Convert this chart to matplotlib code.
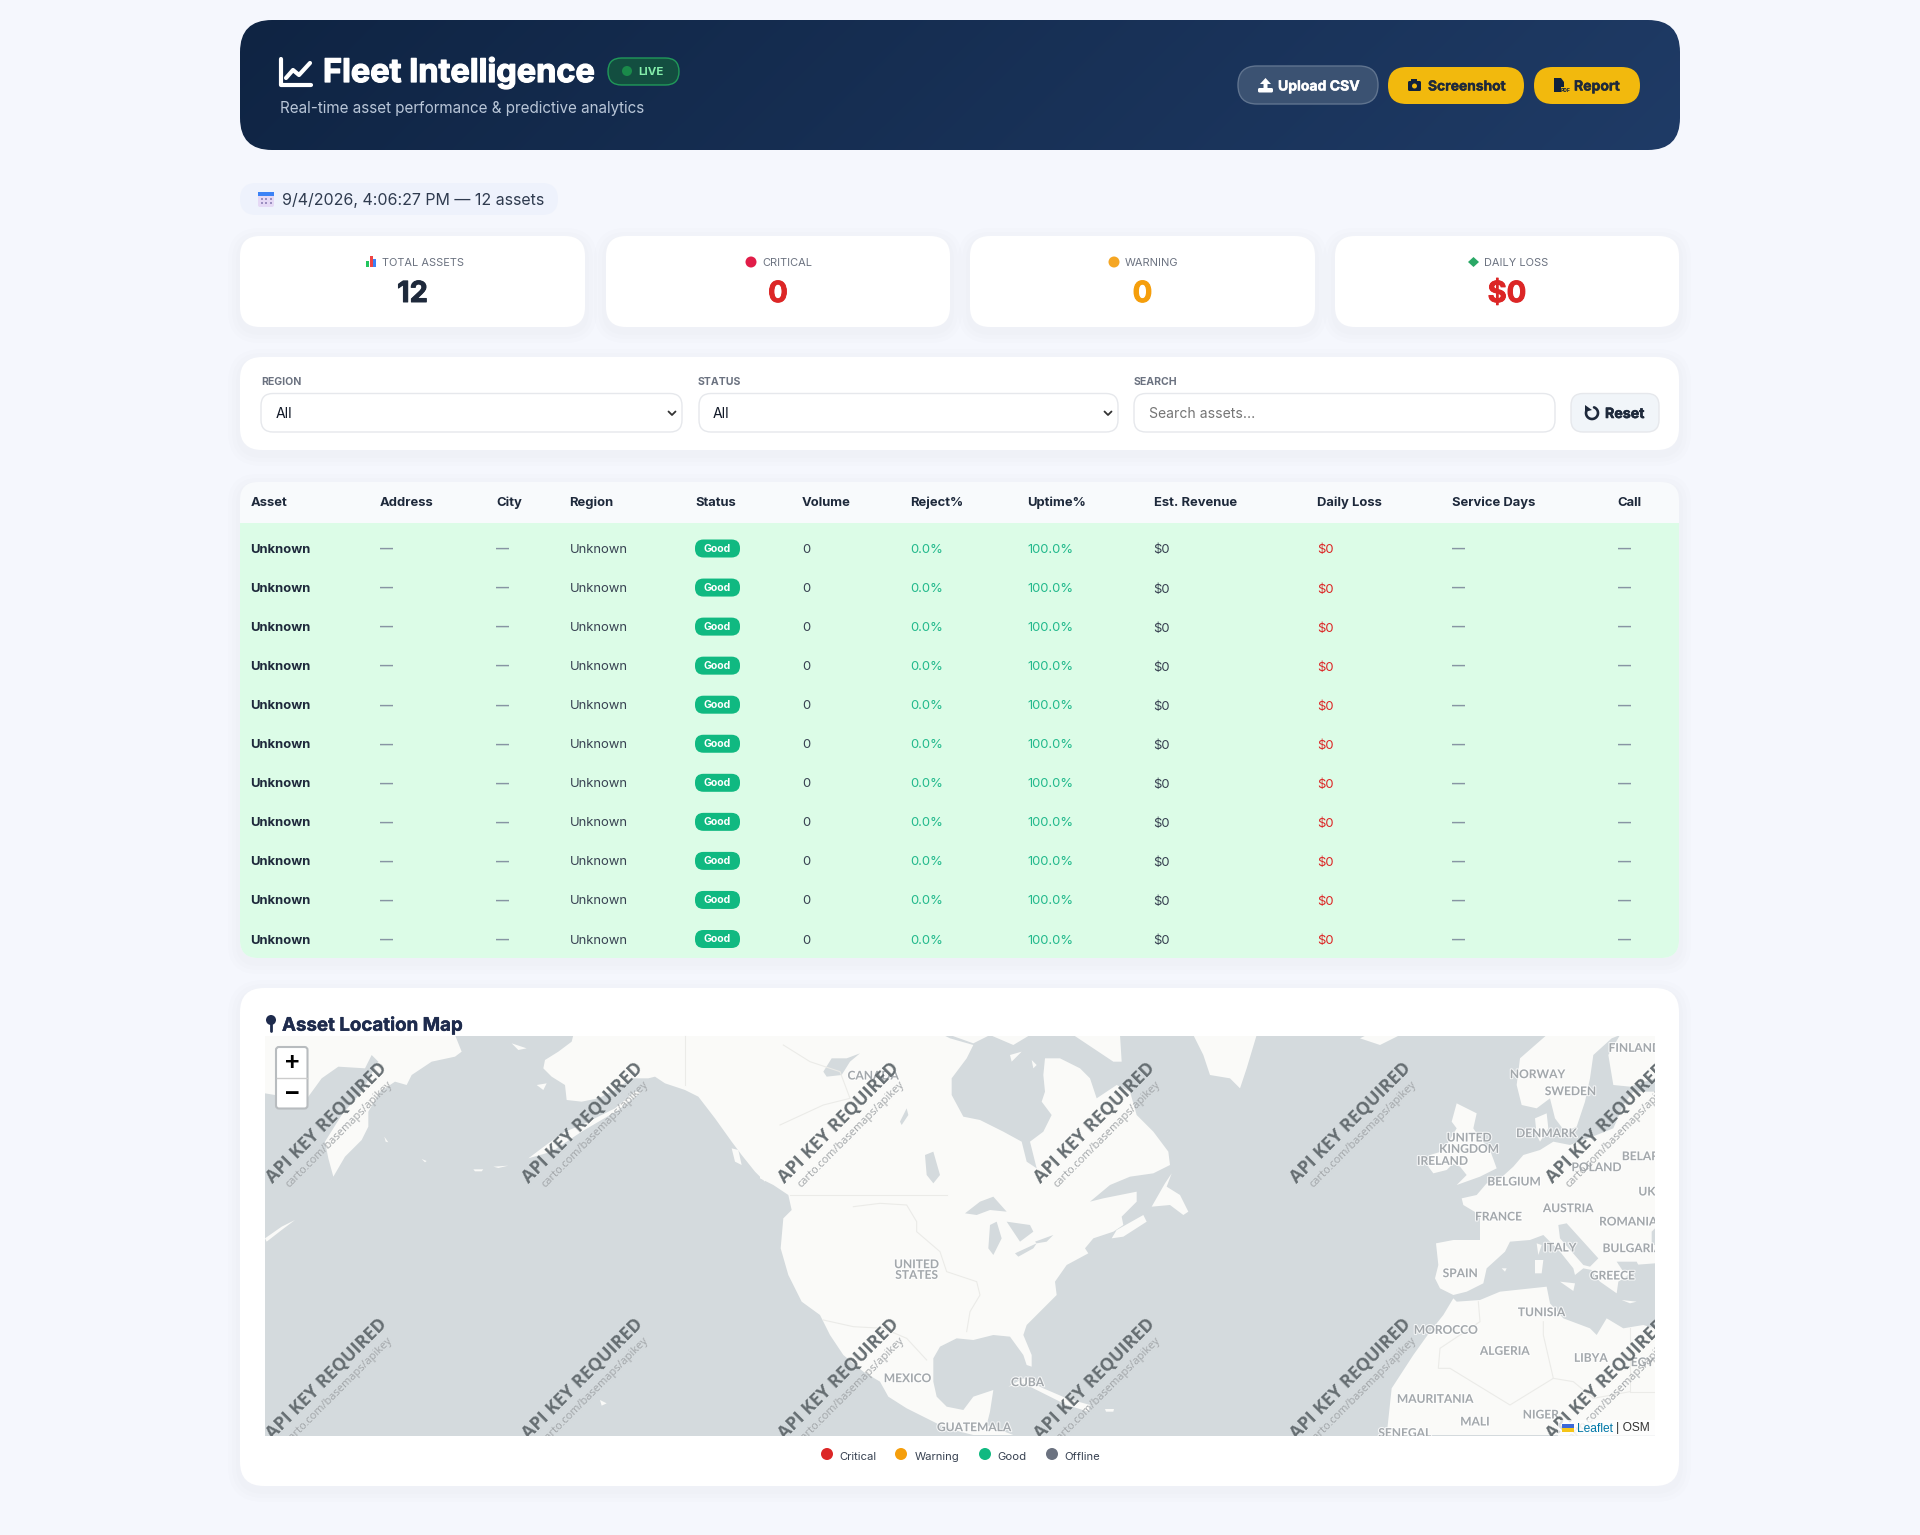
import matplotlib
matplotlib.use("Agg")
import matplotlib.pyplot as plt
import matplotlib.patheffects as pe
import numpy as np
from matplotlib.patches import Circle, FancyBboxPatch, Polygon, Rectangle

WIDTH = 1920
HEIGHT = 1535

# dashboard content
TITLE = "Fleet Intelligence"
SUBTITLE = "Real-time asset performance & predictive analytics"
TIMESTAMP = "9/4/2026, 4:06:27 PM — 12 assets"

CARD_LABELS = ["TOTAL ASSETS", "CRITICAL", "WARNING", "DAILY LOSS"]
CARD_VALUES = ["12", "0", "0", "$0"]
CARD_COLORS = ["#1e293b", "#dc2626", "#f59e0b", "#dc2626"]

COLUMNS = ["Asset", "Address", "City", "Region", "Status", "Volume", "Reject%",
           "Uptime%", "Est. Revenue", "Daily Loss", "Service Days", "Call"]
ASSETS = ["Unknown"] * 11
ADDRESSES = ["—"] * 11
CITIES = ["—"] * 11
REGIONS = ["Unknown"] * 11
STATUSES = ["Good"] * 11
VOLUMES = [0] * 11
REJECTS = [0.0] * 11
UPTIMES = [100.0] * 11
REVENUES = [0] * 11
LOSSES = [0] * 11
SERVICE_DAYS = ["—"] * 11
CALLS = ["—"] * 11

LEGEND_LABELS = ["Critical", "Warning", "Good", "Offline"]
LEGEND_COLORS = ["#dc2626", "#f59e0b", "#10b981", "#6b7280"]

# map outlines, in pixels of the crop they were read from
KAMCHATKA = [(0, 0), (570, 0), (590, 50), (570, 65), (500, 80), (440, 120), (425, 150), (390, 140),
             (345, 170), (310, 230), (310, 275), (290, 315), (240, 365), (205, 425), (190, 370),
             (180, 320), (230, 240), (290, 170), (340, 80), (320, 60), (300, 100), (220, 95),
             (170, 130), (130, 185), (30, 180), (0, 175)]
ALASKA = [(925, 0), (920, 20), (880, 50), (840, 75), (835, 100), (860, 125), (900, 150), (905, 195),
          (950, 200), (1000, 190), (1050, 165), (1100, 130), (1150, 130), (1170, 125), (1200, 145),
          (1260, 165), (1300, 185), (1350, 250), (1400, 320), (1430, 360), (1470, 410), (1500, 440),
          (1500, 0)]
PACIFIC_ISLANDS = [
    [(740, 25), (785, 40), (760, 45)],
    [(815, 150), (845, 145), (835, 165)],
    [(790, 370), (850, 325), (900, 290), (950, 270), (1050, 220), (1110, 170), (1130, 170),
     (1060, 225), (950, 290), (860, 350)],
    [(165, 470), (195, 430), (180, 450)],
    [(0, 610), (50, 575), (90, 555), (50, 585), (5, 620)],
    [(1005, 1095), (1025, 1105), (1010, 1112)],
    [(625, 403), (655, 403), (650, 409), (630, 409)],
    [(685, 395), (730, 392), (700, 399)],
    [(1400, 340), (1420, 345), (1430, 390), (1410, 380)],
    [(470, 372), (485, 378), (480, 382)],
    [(358, 305), (370, 322), (362, 320)],
]
NORTH_AMERICA = [(0, 0), (0, 430), (40, 450), (85, 480), (95, 525), (70, 550), (62, 640), (85, 720),
                 (125, 800), (180, 840), (210, 900), (250, 960), (310, 1010), (360, 1040), (385, 1085),
                 (440, 1120), (500, 1150), (540, 1170), (600, 1190), (640, 1200), (760, 1200),
                 (680, 1170), (690, 1130), (700, 1065), (640, 1085), (610, 1125), (560, 1115), (530, 1085),
                 (520, 1040), (520, 970), (540, 935), (590, 910), (640, 915), (700, 900), (750, 905),
                 (790, 960), (800, 990), (815, 995), (815, 960), (790, 900), (800, 870), (850, 820),
                 (890, 780), (885, 740), (920, 690), (985, 655), (975, 640), (1000, 610), (1060, 590),
                 (1090, 570), (1085, 545), (1130, 500), (1130, 470), (1080, 480), (1030, 490),
                 (990, 500), (1050, 450), (1110, 425), (1180, 415), (1230, 390), (1225, 350),
                 (1180, 290), (1130, 240), (1110, 170), (1070, 150), (1010, 190), (990, 130),
                 (960, 100), (900, 70), (855, 70), (850, 120), (855, 170), (845, 200), (875, 240),
                 (850, 290), (810, 320), (830, 400), (800, 380), (785, 320), (730, 290), (660, 255),
                 (610, 245), (575, 180), (575, 130), (620, 70), (640, 30), (570, 10), (550, 0)]
CANADA_ISLANDS = [
    [(940, 0), (1080, 0), (1085, 80), (1060, 80), (1000, 40)],
    [(570, 0), (640, 25), (690, 0)],
    [(690, 0), (760, 30), (810, 0)],
    [(750, 60), (785, 50), (755, 80)],
    [(815, 75), (830, 90), (820, 100)],
    [(1300, 0), (1490, 0), (1460, 100), (1440, 160), (1410, 130), (1350, 120), (1330, 60)],
    [(1175, 515), (1215, 445), (1235, 415), (1220, 455), (1260, 480), (1285, 530), (1270, 540), (1230, 510)],
    [(1055, 610), (1070, 585), (1150, 540), (1160, 560), (1090, 605)],
    [(745, 1055), (790, 1030), (850, 1060), (920, 1090), (990, 1110), (985, 1130), (920, 1110), (850, 1075), (790, 1045)],
    [(1035, 1122), (1062, 1122), (1060, 1130), (1038, 1130)],
]
NA_LAKES = [
    [(190, 110), (215, 70), (260, 70), (300, 55), (270, 80), (245, 120), (200, 125)],
    [(495, 360), (520, 350), (540, 420), (520, 445), (500, 420)],
    [(420, 260), (440, 220), (445, 240), (425, 270)],
    [(615, 535), (660, 500), (700, 485), (740, 530), (690, 525), (650, 540)],
    [(690, 570), (710, 560), (725, 610), (700, 660), (685, 640)],
    [(740, 560), (810, 570), (820, 590), (780, 620), (760, 590)],
    [(765, 655), (830, 625), (820, 640), (775, 665)],
    [(825, 620), (880, 600), (860, 620), (830, 625)],
]
NA_BORDERS = [
    [(90, 480), (560, 480)],
    [(280, 515), (360, 505), (440, 510), (470, 560), (470, 590), (540, 650), (560, 710), (650, 740),
     (660, 780), (630, 830), (620, 890)],
    [(190, 855), (280, 875), (370, 880), (440, 910), (500, 975)],
    [(60, 270), (190, 210), (270, 190), (240, 110), (150, 80), (70, 30)],
]
EUROPE = [(1365, 170), (1300, 170), (1270, 210), (1240, 280), (1190, 300), (1110, 330), (1060, 320),
          (1020, 345), (970, 360), (940, 395), (890, 440), (860, 445), (830, 480), (785, 490),
          (790, 510), (840, 540), (840, 615), (760, 615), (708, 625), (715, 690), (705, 730),
          (720, 760), (760, 780), (800, 770), (850, 745), (860, 700), (915, 650), (930, 620),
          (990, 615), (1030, 600), (1080, 650), (1120, 700), (1125, 720), (1150, 700), (1175, 705),
          (1200, 740), (1250, 775), (1255, 740), (1285, 720), (1300, 690), (1365, 685)]
SCANDINAVIA = [(1040, 0), (960, 70), (950, 150), (965, 210), (1010, 220), (1050, 190), (1065, 250),
               (1095, 290), (1130, 275), (1155, 200), (1170, 130), (1180, 60), (1235, 10), (1260, 0)]
FINLAND = [(1260, 0), (1225, 60), (1240, 150), (1290, 155), (1365, 130), (1365, 0)]
AFRICA = [(760, 790), (770, 800), (840, 795), (900, 770), (1040, 755), (1050, 805), (1090, 850),
          (1170, 880), (1190, 900), (1220, 850), (1270, 880), (1330, 870), (1365, 880), (1365, 1200),
          (560, 1200), (575, 1060), (640, 960), (690, 890), (730, 840)]
EURO_ISLANDS = [
    [(770, 205), (830, 235), (820, 280), (840, 310), (870, 345), (890, 400), (840, 425), (770, 450),
     (800, 420), (780, 395), (720, 370), (740, 330), (770, 280), (755, 260)],
    [(690, 360), (740, 345), (770, 375), (740, 405), (700, 415), (685, 395)],
    [(480, 10), (540, 30), (600, 0), (500, 0)],
    [(1005, 250), (1040, 235), (1045, 280), (1020, 320), (1010, 300)],
    [(1080, 740), (1125, 745), (1120, 768)],
    [(1010, 625), (1025, 630), (1015, 660)],
    [(1005, 675), (1030, 675), (1025, 715), (1005, 715)],
    [(905, 700), (920, 700), (915, 710)],
    [(1265, 795), (1310, 800), (1290, 805)],
]
EURO_WATER = [
    [(1075, 570), (1100, 565), (1195, 670), (1170, 695), (1150, 690), (1080, 610)],
    [(1250, 680), (1310, 680), (1320, 700), (1270, 710)],
    [(1355, 590), (1365, 580), (1365, 630), (1355, 630)],
]
AFRICA_BORDERS = [
    [(835, 800), (840, 860), (720, 940), (715, 1000), (750, 1000), (930, 1110), (1060, 1030),
     (1030, 900), (1030, 860)],
    [(1290, 880), (1290, 1070), (1365, 1070)],
    [(1060, 1030), (1120, 1040), (1180, 1090), (1290, 1070)],
]

NA_LABELS = ["CANADA", "UNITED", "STATES", "MEXICO", "CUBA", "GUATEMALA"]
NA_LABEL_POS = [(340, 120), (470, 686), (470, 718), (443, 1028), (803, 1040), (643, 1175)]
EU_LABELS = ["FINLAND", "NORWAY", "SWEDEN", "DENMARK", "UNITED", "KINGDOM", "IRELAND", "BELARUS",
             "POLAND", "BELGIUM", "UKRAINE", "AUSTRIA", "FRANCE", "ROMANIA", "ITALY", "BULGARIA",
             "SPAIN", "GREECE", "TUNISIA", "MOROCCO", "ALGERIA", "LIBYA", "EGYPT", "MAURITANIA",
             "MALI", "NIGER", "SENEGAL"]
EU_LABEL_POS = [(1305, 37), (1013, 116), (1112, 167), (1040, 293), (808, 306), (808, 340), (728, 376),
                (1345, 362), (1190, 395), (943, 438), (1395, 468), (1105, 518), (896, 543), (1285, 558),
                (1080, 636), (1298, 638), (781, 713), (1238, 720), (1025, 830), (738, 883), (915, 946),
                (1173, 967), (1350, 980), (706, 1090), (825, 1158), (1023, 1137), (615, 1192)]

WATERMARK_COLS = [326.5, 582.5, 838.5, 1094.5, 1350.5, 1606.5]
WATERMARK_ROWS = [1123, 1379]

BG = "#f5f7fd"
NAVY = "#1e293b"
FONT = "Inter"

fig = plt.figure(figsize=(WIDTH / 100, HEIGHT / 100), dpi=100, facecolor=BG)
ax = fig.add_axes([0, 0, 1, 1])
ax.set_xlim(0, WIDTH)
ax.set_ylim(HEIGHT, 0)
ax.axis("off")


def fs(px):
    return px * 0.72


def box(x0, y0, x1, y1, r, fc, ec="none", lw=0, z=2, alpha=None):
    p = FancyBboxPatch((x0, y0), x1 - x0, y1 - y0, boxstyle=f"round,pad=0,rounding_size={r}",
                       fc=fc, ec=ec, lw=lw, zorder=z, alpha=alpha)
    ax.add_patch(p)
    return p


def shadow(x0, y0, x1, y1, r, z=1):
    for grow in [12, 8, 4]:
        box(x0 - grow, y0 - grow + 4, x1 + grow, y1 + grow + 4, r + grow, "#64748b", z=z, alpha=0.012)


def label(x, y, s, size, color=NAVY, weight="normal", ha="left", family=FONT, z=5, thick=0, **kw):
    if thick:
        kw["path_effects"] = [pe.withStroke(linewidth=thick, foreground=color)]
    return ax.text(x, y + 1.5, s, fontsize=fs(size), color=color, fontweight=weight, ha=ha, va="center",
                   family=family, zorder=z, **kw)


def stroke(xs, ys, color, lw, z=5, **kw):
    ax.plot(xs, ys, color=color, lw=lw, zorder=z, solid_capstyle="round", **kw)


# header with gradient
header = box(240, 20, 1680, 150, 32, "none", z=2)
xx, yy = np.meshgrid(np.linspace(0, 1, 300), np.linspace(0, 1, 40))
t = (xx * 1440 + yy * 130) / 1570
c0 = np.array([0x0f, 0x24, 0x43]) / 255
c1 = np.array([0x1f, 0x3b, 0x66]) / 255
grad = c0[None, None, :] + (c1 - c0)[None, None, :] * t[:, :, None]
im = ax.imshow(grad, extent=(240, 1680, 150, 20), aspect="auto", zorder=2, interpolation="bilinear")
im.set_clip_path(header)
ax.set_xlim(0, WIDTH)
ax.set_ylim(HEIGHT, 0)

stroke([281, 281, 311], [59, 85, 85], "white", 3, z=6)
stroke([286, 293, 299, 310], [78, 70, 75, 63], "white", 3, z=6)
label(323, 71.5, TITLE, 32.5, "white", "bold", thick=0.9)
label(280, 107.5, SUBTITLE, 15.2, "#b9c6d8")

box(608, 58, 679, 85, 13.5, "#14533f", "#22a35c", 1, z=4, alpha=0.9)
ax.add_patch(Circle((627, 71), 5, fc="#1a8a4a", zorder=5))
label(638, 70.5, "LIVE", 11.5, "#86efac", "bold")

# header buttons
box(1238, 66, 1378, 104, 19, "#3b5272", "#60748f", 1, z=4)
box(1388, 67, 1524, 104, 18.5, "#f2b90d", z=4)
box(1534, 67, 1640, 104, 18.5, "#f2b90d", z=4)
label(1278, 85, "Upload CSV", 14, "white", "bold", thick=0.3)
label(1428, 85, "Screenshot", 13.8, NAVY, "bold", thick=0.3)
label(1574, 85, "Report", 14, NAVY, "bold", thick=0.3)
# upload icon
ax.add_patch(Polygon([(1265.5, 78), (1271, 84), (1267.5, 84), (1267.5, 89), (1263.5, 89), (1263.5, 84), (1260, 84)],
                     fc="white", zorder=6))
box(1258, 88, 1273, 92.5, 1.5, "white", z=6)
# camera icon
box(1408, 81, 1421, 91, 1.5, "#10213d", z=6)
ax.add_patch(Rectangle((1411, 79), 6, 3, fc="#10213d", zorder=6))
ax.add_patch(Circle((1414.5, 86), 2.5, fc="#f2b90d", zorder=7))
# pdf icon
ax.add_patch(Polygon([(1554, 78), (1561, 78), (1564, 82), (1564, 87), (1561, 87), (1561, 92), (1554, 92)],
                     fc="#10213d", zorder=6))
label(1561, 88.5, "PDF", 5, "#10213d", "bold")

# date pill
box(240, 183, 558, 215, 16, "#eef2fc", z=2)
box(258, 192, 274, 207, 2, "#e5d9f5", z=5)
ax.add_patch(Rectangle((258, 192), 16, 4, fc="#3b82f6", zorder=6))
for cx in [261.5, 266, 270.5]:
    for cy in [199, 203]:
        ax.add_patch(Rectangle((cx - 1, cy - 1), 2, 2, fc="#9b8fc0", zorder=6))
label(282, 199, TIMESTAMP, 16, "#2f3b4f")

# stat cards
CARD_X = [(240, 585), (606, 950), (970, 1315), (1335, 1679)]
LABEL_X = [382, 762, 1125, 1484]
for (x0, x1), lx, name, val, col in zip(CARD_X, LABEL_X, CARD_LABELS, CARD_VALUES, CARD_COLORS):
    shadow(x0, 236, x1, 327, 20)
    box(x0, 236, x1, 327, 20, "white")
    label(lx, 261, name, 11, "#6b7280")
    label((x0 + x1) / 2, 293, val, 29, col, "bold", ha="center", thick=0.7)
for bx, bh, bc in zip([366, 369.5, 373], [6, 11, 8], ["#22c55e", "#ef4444", "#3b82f6"]):
    ax.add_patch(Rectangle((bx, 267 - bh), 3, bh, fc=bc, zorder=6))
ax.add_patch(Circle((751, 262), 5.5, fc="#e11d48", zorder=6))
ax.add_patch(Circle((1114, 262), 5.5, fc="#f5a623", zorder=6))
ax.add_patch(Polygon([(1473.5, 257), (1479, 262), (1473.5, 267), (1468, 262)], fc="#2aa866", zorder=6))

# filter bar
shadow(240, 357, 1679, 450, 22)
box(240, 357, 1679, 450, 22, "white")
for x, name in zip([261, 698, 1134], ["REGION", "STATUS", "SEARCH"]):
    label(x, 380.5, name, 10.5, "#6b7280", "bold")
for x0, x1 in [(261, 682), (699, 1118), (1134, 1555)]:
    box(x0, 393.5, x1, 432, 12, "white", "#e6e8ec", 1, z=3)
label(276, 412.5, "All", 14, "#111827")
label(713, 412.5, "All", 14, "#111827")
label(1149, 412.5, "Search assets...", 14, "#757575")
for cx in [672, 1108]:
    stroke([cx - 3.5, cx, cx + 3.5], [411.5, 415, 411.5], "#333333", 1.3)
box(1571, 393.5, 1659, 432, 12, "#f1f5f9", "#e6e8ec", 1, z=3)
theta = np.radians(np.linspace(-70, 200, 30))
stroke(1592 + 6 * np.cos(theta), 413 + 6 * np.sin(theta), NAVY, 1.9)
ax.add_patch(Polygon([(1585, 405), (1585, 412), (1592, 410)], fc=NAVY, zorder=6))
label(1605, 412.5, "Reset", 14.2, NAVY, "bold", thick=0.4)

# table
COL_X = [250.5, 379.5, 496, 569.5, 695, 802, 910.5, 1027, 1153.5, 1317, 1452, 1617.5]
ROW_Y = [548.5 + 39.05 * i for i in range(len(ASSETS))]
shadow(240, 482, 1679, 958, 18)
box(240, 482, 1679, 958, 18, "#f8fafc")
box(240, 523, 1679, 958, 18, "#dcfce7", z=2.5)
ax.add_patch(Rectangle((240, 523), 1439, 30, fc="#dcfce7", zorder=2.5))
for x, name in zip(COL_X, COLUMNS):
    label(x, 501.5, name, 13, NAVY, "bold")
MID = "#374151"
DASH = "#8795a3"
GREEN = "#22b98c"
RED = "#dc2626"
for i, y in enumerate(ROW_Y):
    label(COL_X[0], y, ASSETS[i], 13, NAVY, "bold")
    label(COL_X[1], y - 1, ADDRESSES[i], 13, DASH, "bold")
    label(COL_X[2], y - 1, CITIES[i], 13, DASH, "bold")
    label(COL_X[3], y, REGIONS[i], 13, MID)
    box(695, y - 9, 740, y + 9, 8.5, "#10b981", z=4)
    label(717.5, y - 1.5, STATUSES[i], 10.5, "white", "bold", ha="center")
    label(COL_X[5], y, f"{VOLUMES[i]}", 13, MID)
    label(COL_X[6], y, f"{REJECTS[i]:.1f}%", 13, GREEN)
    label(COL_X[7], y, f"{UPTIMES[i]:.1f}%", 13, GREEN)
    label(COL_X[8], y + 0.5, f"${REVENUES[i]}", 13, MID)
    label(COL_X[9], y + 0.5, f"${LOSSES[i]}", 13, RED)
    label(COL_X[10], y - 1, SERVICE_DAYS[i], 13, DASH, "bold")
    label(COL_X[11], y - 1, CALLS[i], 13, DASH, "bold")

# map panel
shadow(240, 988, 1679, 1486, 24)
box(240, 988, 1679, 1486, 24, "white")
ax.add_patch(Circle((271, 1020), 5, fc="#1e2b4d", zorder=6))
stroke([271, 271], [1024, 1031], "#1e2b4d", 2, z=6)
label(282, 1024.5, "Asset Location Map", 18.7, "#1e2b4d", "bold", thick=0.3)

WATER = "#d4dadd"
LAND = "#fafaf8"
map_rect = Rectangle((265, 1035.5), 1390, 400, fc=WATER, ec="none", zorder=3)
ax.add_patch(map_rect)


def from_crop(pts, ox, oy):
    return [(ox + a / 3, oy + b / 3) for a, b in pts]


def shape(pts, ox, oy, color, z=3.2):
    p = Polygon(from_crop(pts, ox, oy), closed=True, fc=color, ec="none", zorder=z)
    ax.add_patch(p)
    p.set_clip_path(map_rect)


def line_shape(pts, ox, oy):
    xy = from_crop(pts, ox, oy)
    ln, = ax.plot([a for a, b in xy], [b for a, b in xy], color="#ebebe8", lw=0.8, zorder=3.4)
    ln.set_clip_path(map_rect)


shape(KAMCHATKA, 265, 1035, LAND)
shape(ALASKA, 265, 1035, LAND)
for isl in PACIFIC_ISLANDS:
    shape(isl, 265, 1035, LAND)
ax.plot([685, 685], [1036, 1085], color="#ebebe8", lw=0.8, zorder=3.4)
shape(NORTH_AMERICA, 760, 1035, LAND)
for isl in CANADA_ISLANDS:
    shape(isl, 760, 1035, LAND)
for lake in NA_LAKES:
    shape(lake, 760, 1035, WATER, z=3.3)
for b in NA_BORDERS:
    line_shape(b, 760, 1035)
for part in [EUROPE, SCANDINAVIA, FINLAND, AFRICA]:
    shape(part, 1200, 1035, LAND)
for isl in EURO_ISLANDS:
    shape(isl, 1200, 1035, LAND)
for sea in EURO_WATER:
    shape(sea, 1200, 1035, WATER, z=3.3)
for b in AFRICA_BORDERS:
    line_shape(b, 1200, 1035)

halo = [pe.withStroke(linewidth=1.5, foreground="white", alpha=0.8)]
for names, spots, ox in [(NA_LABELS, NA_LABEL_POS, 760), (EU_LABELS, EU_LABEL_POS, 1200)]:
    for name, (a, b) in zip(names, spots):
        t_ = label(ox + a / 3, 1034.5 + b / 3, name, 12, "#a3a8ac", "bold", ha="center", family="Lato",
                   z=3.6, path_effects=halo)
        t_.set_clip_on(True)
        t_.set_clip_path(map_rect)

for cy in WATERMARK_ROWS:
    for cx in WATERMARK_COLS:
        t1 = ax.text(cx, cy, "API KEY REQUIRED", fontsize=fs(17.9), color="#666e72", fontweight="bold",
                     family="Open Sans", rotation=45, rotation_mode="anchor", ha="center", va="center",
                     zorder=3.8)
        t2 = ax.text(cx + 13, cy + 12, "carto.com/basemaps/apikey", fontsize=fs(11), color="#a2a6a9",
                     family="Open Sans", rotation=45, rotation_mode="anchor", ha="center", va="center",
                     zorder=3.8)
        for w in (t1, t2):
            w.set_clip_on(True)
            w.set_clip_path(map_rect)

# zoom control
box(276, 1047, 307.5, 1108.5, 3, "white", "#b8bcbf", 1.5, z=6)
ax.plot([277, 307], [1077.5, 1077.5], color="#cccccc", lw=1, zorder=7)
label(292, 1062, "+", 25, "black", "bold", ha="center", family="Liberation Sans", z=7)
label(292, 1092, "−", 25, "black", "bold", ha="center", family="Liberation Sans", z=7)

# attribution
ax.add_patch(Rectangle((1558, 1420), 97, 15.5, fc="white", alpha=0.75, ec="none", zorder=5))
ax.add_patch(Rectangle((1562, 1424), 12, 4, fc="#3b68d8", zorder=6))
ax.add_patch(Rectangle((1562, 1428), 12, 4, fc="#f5c518", zorder=6))
label(1577, 1427, "Leaflet", 12, "#0078a8", family="Liberation Sans", z=6)
label(1616, 1427, "| OSM", 12, "#333333", family="Liberation Sans", z=6)

# legend
DOT_X = [827, 901, 985, 1052]
TEXT_X = [839.5, 914.5, 997.5, 1064]
for dx, tx, name, col in zip(DOT_X, TEXT_X, LEGEND_LABELS, LEGEND_COLORS):
    ax.add_patch(Circle((dx, 1454), 6, fc=col, zorder=5))
    label(tx, 1456, name, 11.3, "#374151")

fig.savefig("out.png", dpi=100, facecolor=BG)
